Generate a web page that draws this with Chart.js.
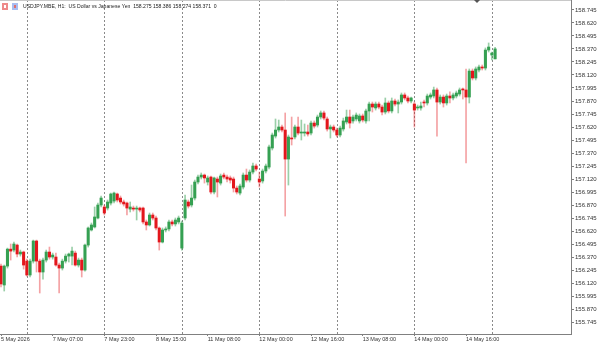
<!DOCTYPE html>
<html>
<head>
<meta charset="utf-8">
<script src="https://cdn.jsdelivr.net/npm/chart.js@4.4.1/dist/chart.umd.min.js"></script>
<style>
  html, body { margin: 0; padding: 0; background: #fff; }
  #wrap { position: relative; width: 600px; height: 343px; }
</style>
</head>
<body>
<div id="wrap"><canvas id="mainChart"></canvas></div>
<script>
// USDJPY H1 candles (oldest first)
const opens = [
  156.283,156.101,156.283,156.446,156.437,156.485,156.399,156.418,156.331,156.197,
  156.331,156.524,156.331,156.226,156.341,156.418,156.370,156.370,156.293,156.264,
  156.331,156.379,156.379,156.408,156.293,156.341,156.245,156.485,156.630,156.659,
  156.745,156.870,156.851,156.841,156.889,156.908,156.976,156.937,156.899,156.889,
  156.831,156.841,156.831,156.841,156.841,156.707,156.678,156.774,156.745,156.649,
  156.514,156.630,156.640,156.707,156.688,156.707,156.456,156.745,156.899,156.870,
  156.937,157.091,157.139,157.158,157.091,157.139,156.995,157.120,157.081,157.158,
  157.139,157.130,157.120,157.033,156.985,157.043,157.158,157.110,157.187,157.245,
  157.120,157.101,157.197,157.235,157.418,157.533,157.591,157.620,157.591,157.312,
  157.514,157.524,157.620,157.562,157.562,157.572,157.562,157.658,157.639,157.716,
  157.755,157.697,157.601,157.620,157.591,157.543,157.601,157.668,157.716,157.678,
  157.697,157.678,157.726,157.678,157.774,157.841,157.803,157.841,157.812,157.764,
  157.851,157.774,157.870,157.841,157.860,157.928,157.899,157.870,157.841,157.803,
  157.803,157.860,157.851,157.908,157.918,157.976,157.860,157.908,157.851,157.918,
  157.899,157.918,157.937,157.985,157.976,157.908,158.158,158.091,158.168,158.197,
  158.187,158.360,158.312,158.275
];
const highs = [
  156.303,156.293,156.456,156.495,156.514,156.495,156.437,156.427,156.350,156.350,
  156.533,156.533,156.350,156.360,156.437,156.466,156.408,156.408,156.312,156.350,
  156.399,156.408,156.466,156.427,156.360,156.360,156.495,156.659,156.697,156.851,
  156.889,156.957,156.870,156.918,156.985,156.995,156.985,156.957,156.918,156.899,
  156.899,156.860,156.860,156.851,156.851,156.726,156.793,156.793,156.764,156.659,
  156.649,156.659,156.726,156.726,156.745,156.764,156.716,156.966,156.918,157.062,
  157.110,157.158,157.178,157.168,157.149,157.149,157.139,157.139,157.168,157.178,
  157.158,157.149,157.139,157.053,157.072,157.178,157.216,157.207,157.274,157.264,
  157.187,157.216,157.264,157.447,157.562,157.697,157.687,157.639,157.755,157.543,
  157.716,157.639,157.716,157.687,157.649,157.639,157.678,157.678,157.735,157.774,
  157.774,157.716,157.639,157.639,157.610,157.629,157.706,157.783,157.783,157.735,
  157.755,157.745,157.745,157.793,157.860,157.860,157.860,157.860,157.831,157.899,
  157.870,157.899,157.889,157.880,157.947,157.947,157.918,157.908,157.860,157.831,
  157.860,157.880,157.937,157.947,158.004,157.995,157.928,157.928,157.937,157.957,
  157.947,157.966,157.995,157.995,158.178,158.178,158.178,158.197,158.216,158.216,
  158.380,158.428,158.341,158.386
];
const lows = [
  156.082,156.043,156.264,156.341,156.418,156.370,156.379,156.254,156.187,156.178,
  156.312,156.226,156.024,156.158,156.322,156.350,156.350,156.283,156.024,156.245,
  156.312,156.322,156.293,156.283,156.274,156.178,156.235,156.466,156.620,156.649,
  156.736,156.851,156.774,156.822,156.870,156.889,156.899,156.880,156.860,156.774,
  156.803,156.812,156.726,156.803,156.688,156.630,156.668,156.726,156.630,156.437,
  156.505,156.611,156.620,156.668,156.668,156.688,156.437,156.726,156.841,156.851,
  156.918,157.072,157.120,157.081,157.062,156.976,156.976,156.947,157.062,157.120,
  157.091,157.081,156.995,156.976,156.966,157.024,157.091,157.091,157.168,157.197,
  157.043,157.081,157.178,157.216,157.399,157.514,157.572,157.572,156.764,157.062,
  157.447,157.505,157.543,157.495,157.533,157.533,157.543,157.610,157.620,157.697,
  157.687,157.581,157.514,157.572,157.524,157.524,157.581,157.649,157.610,157.658,
  157.678,157.658,157.668,157.658,157.678,157.764,157.783,157.793,157.735,157.745,
  157.755,157.755,157.822,157.755,157.841,157.880,157.851,157.851,157.620,157.783,
  157.783,157.812,157.831,157.889,157.899,157.533,157.841,157.812,157.831,157.851,
  157.880,157.899,157.918,157.889,157.274,157.851,158.072,158.072,158.149,158.168,
  158.168,158.341,158.264,158.274
];
const closes = [
  156.111,156.283,156.446,156.427,156.495,156.399,156.418,156.293,156.197,156.331,
  156.524,156.331,156.226,156.341,156.418,156.370,156.389,156.293,156.264,156.331,
  156.379,156.399,156.427,156.293,156.341,156.245,156.485,156.649,156.678,156.755,
  156.870,156.937,156.793,156.899,156.976,156.985,156.918,156.899,156.880,156.841,
  156.851,156.831,156.841,156.822,156.707,156.678,156.774,156.745,156.649,156.514,
  156.630,156.640,156.707,156.688,156.726,156.745,156.697,156.918,156.860,156.937,
  157.091,157.139,157.158,157.130,157.130,156.995,157.130,157.091,157.149,157.139,
  157.120,157.110,157.033,156.995,157.053,157.158,157.110,157.187,157.245,157.216,
  157.091,157.197,157.245,157.428,157.543,157.591,157.620,157.591,157.312,157.524,
  157.505,157.620,157.562,157.572,157.572,157.553,157.658,157.629,157.716,157.755,
  157.706,157.601,157.620,157.591,157.543,157.610,157.678,157.716,157.658,157.716,
  157.735,157.726,157.687,157.774,157.841,157.812,157.841,157.812,157.764,157.851,
  157.774,157.870,157.841,157.860,157.928,157.899,157.870,157.899,157.783,157.812,
  157.822,157.851,157.918,157.928,157.976,157.860,157.908,157.851,157.918,157.899,
  157.928,157.947,157.976,157.976,157.908,158.158,158.091,158.178,158.197,158.187,
  158.360,158.389,158.331,158.371
];

// Axis labels
const xTickIdx = [0, 16, 32, 48, 64, 80, 96, 112, 128, 144];
const xTickLabels = ['5 May 2026', '7 May 07:00', '7 May 23:00', '8 May 15:00', '11 May 08:00',
                     '12 May 00:00', '12 May 16:00', '13 May 08:00', '14 May 00:00', '14 May 16:00'];
const yTicks = [155.745, 155.870, 155.995, 156.120, 156.245, 156.370, 156.495, 156.620, 156.745,
                156.870, 156.995, 157.120, 157.245, 157.370, 157.495, 157.620, 157.745, 157.870,
                157.995, 158.120, 158.245, 158.370, 158.495, 158.620, 158.745];
// Day separators (bar index)
const separators = [8, 32, 56, 80, 104, 128, 152];

const titleText = 'USDJPY.MBE, H1:  US Dollar vs Japanese Yen  158.275 158.386 158.274 158.371  0';

const UP = '#35a052';
const DOWN = '#e3161c';
const UP_WICK = 'rgba(53,160,82,0.5)';
const DOWN_WICK = 'rgba(227,22,28,0.4)';
const FONT = '"Liberation Sans", Arial, sans-serif';

const isUp = i => closes[i] >= opens[i];

// Dotted separators, header text and little icons
const decorPlugin = {
    id: 'decor',
    beforeDatasetsDraw(chart) {
        const { ctx, chartArea, scales } = chart;
        ctx.save();
        ctx.strokeStyle = '#8a8a8a';
        ctx.lineWidth = 1;
        ctx.setLineDash([2, 2]);
        separators.forEach(s => {
            const x = Math.round(scales.x.getPixelForValue(s)) + 0.5;
            ctx.beginPath();
            ctx.moveTo(x, chartArea.top);
            ctx.lineTo(x, chartArea.bottom);
            ctx.stroke();
        });
        ctx.restore();
    },
    afterDraw(chart) {
        const { ctx, chartArea } = chart;
        ctx.save();
        // top frame line
        ctx.strokeStyle = '#c8c8c8';
        ctx.beginPath();
        ctx.moveTo(0, 0.5);
        ctx.lineTo(chartArea.right, 0.5);
        ctx.stroke();
        // icons
        ctx.fillStyle = '#ee8a8a';
        ctx.fillRect(2, 3, 6, 7);
        ctx.fillStyle = '#a9bdf0';
        ctx.fillRect(12, 3, 6, 7);
        ctx.fillStyle = '#fff';
        ctx.fillRect(4, 5, 2, 3);
        ctx.fillStyle = '#e07070';
        ctx.fillRect(14, 5, 2, 3);
        // header
        ctx.fillStyle = '#222';
        ctx.font = '5.1px ' + FONT;
        ctx.textBaseline = 'middle';
        ctx.fillText(titleText, 23, 6.5);
        // shift marker
        ctx.fillStyle = '#555';
        ctx.beginPath();
        ctx.moveTo(474, 0);
        ctx.lineTo(480, 0);
        ctx.lineTo(477, 3);
        ctx.closePath();
        ctx.fill();
        ctx.restore();
    }
};

function initializeChart() {
    const ctx = document.getElementById('mainChart');
    const idx = opens.map((_, i) => i);

    chart = new Chart(ctx, {
        type: 'bar',
        data: {
            datasets: [{
                label: 'body',
                data: idx.map(i => ({ x: i, y: [opens[i], closes[i]] })),
                backgroundColor: idx.map(i => isUp(i) ? UP : DOWN),
                barThickness: 2.4,
                minBarLength: 1,
                grouped: false,
                borderWidth: 0
            }, {
                label: 'wick',
                data: idx.map(i => ({ x: i, y: [lows[i], highs[i]] })),
                backgroundColor: idx.map(i => isUp(i) ? UP_WICK : DOWN_WICK),
                barThickness: 1,
                grouped: false,
                borderWidth: 0
            }]
        },
        options: {
            responsive: true,
            maintainAspectRatio: false,
            animation: false,
            layout: { padding: 0 },
            plugins: {
                legend: { display: false },
                tooltip: { enabled: false }
            },
            scales: {
                x: {
                    type: 'linear',
                    min: -0.31,
                    max: 176.5,
                    offset: false,
                    afterBuildTicks: s => { s.ticks = xTickIdx.map(v => ({ value: v })); },
                    afterFit: s => { s.height = 9; s.paddingLeft = 0; s.paddingRight = 0; },
                    grid: { display: true, drawOnChartArea: false, offset: false, tickLength: 2, color: '#808080' },
                    border: { display: true, color: '#808080' },
                    ticks: {
                        autoSkip: false,
                        maxRotation: 0,
                        align: 'start',
                        padding: 0,
                        color: '#333',
                        font: { family: FONT, size: 5.5 },
                        callback: v => xTickLabels[xTickIdx.indexOf(v)] || ''
                    }
                },
                y: {
                    position: 'right',
                    min: 155.63,
                    max: 158.841,
                    afterBuildTicks: s => { s.ticks = yTicks.map(v => ({ value: v })); },
                    afterFit: s => { s.width = 29; s.paddingTop = 0; s.paddingBottom = 0; },
                    grid: { display: true, drawOnChartArea: false, tickLength: 3, color: '#808080' },
                    border: { display: true, color: '#808080' },
                    ticks: {
                        padding: 1,
                        color: '#333',
                        font: { family: FONT, size: 6 },
                        callback: v => v.toFixed(3)
                    }
                }
            }
        },
        plugins: [decorPlugin]
    });
}

let chart = null;
initializeChart();
</script>
</body>
</html>
